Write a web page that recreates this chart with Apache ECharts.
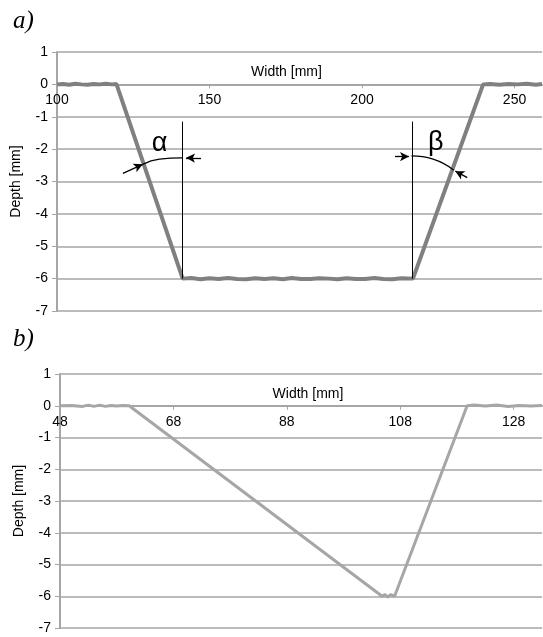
<!DOCTYPE html>
<html>
<head>
<meta charset="utf-8">
<script src="https://cdn.jsdelivr.net/npm/echarts@6/dist/echarts.min.js"></script>
<style>
  html, body { margin: 0; padding: 0; background: #fff; }
  #chart { width: 543px; height: 637px; }
</style>
</head>
<body>
<div id="chart"></div>
<script>
// panel a) profile [width mm, depth mm]
const profileA = [
    [100, 0.00], [102, 0.01], [104, -0.01], [106, 0.02], [108, 0.00], [110, -0.01],
    [112, 0.01], [114, 0.00], [116, 0.02], [118, 0.00], [119.5, 0.01],
    [141.2, -6.00], [144, -5.98], [147, -6.02], [150, -5.99], [153, -6.01], [156, -5.98],
    [159, -6.01], [162, -6.02], [165, -5.99], [168, -6.01], [171, -5.99], [174, -6.02],
    [177, -5.98], [180, -6.01], [183, -6.01], [186, -5.99], [189, -6.00], [192, -6.02],
    [195, -5.99], [198, -6.01], [201, -6.01], [204, -5.98], [207, -6.01], [210, -6.02],
    [213, -5.99], [216.7, -6.00],
    [239.7, 0.00], [242, 0.01], [245, -0.01], [248, 0.01], [251, 0.00], [254, 0.02],
    [257, -0.01], [259, 0.01]
];

// panel b) profile
const profileB = [
    [48, 0.00], [50, 0.01], [52, -0.02], [53, 0.02], [54, -0.02], [55, 0.02], [56, -0.02],
    [57, 0.01], [58, -0.01], [59, 0.01], [60.2, 0.00],
    [104.8, -6.00], [105.3, -5.95], [105.8, -6.03], [106.3, -5.95], [107.0, -6.00],
    [119.8, 0.00], [121, 0.02], [123, -0.01], [125, 0.02], [127, -0.02], [129, 0.01],
    [131, -0.01], [133, 0.01]
];

const yTicks = [-7, -6, -5, -4, -3, -2, -1, 0, 1];

// angle annotations in panel a)
const guideLines = [
    [[141.2, -1.15], [141.2, -6]],
    [[216.5, -1.15], [216.5, -6]]
];
const arrowsA = [
    [[121.6, -2.75], [128.1, -2.47]],
    [[147.2, -2.28], [142.3, -2.27]],
    [[210.8, -2.23], [215.4, -2.23]],
    [[234.5, -2.88], [230.6, -2.68]]
];
const arcAlpha = [[128.1, -2.47], [133.6, -2.31], [141.0, -2.27]];
const arcBeta = [[216.2, -2.21], [223.3, -2.31], [230.1, -2.65]];
const angleLabels = [
    {name: 'α', coord: [133.6, -1.84]},
    {name: 'β', coord: [224.2, -1.80]}
];

const chart = echarts.init(document.getElementById('chart'));

const gray = '#a6a6a6';
const font = 'Liberation Sans, Arial, sans-serif';

const gridA = {left: 57, top: 52, right: 1, height: 259, outerBoundsMode: 'none'};
const gridB = {left: 60, top: 374, right: 1, height: 254, outerBoundsMode: 'none'};

// x axis sits on depth 0 -> lift it from the grid bottom by the 0..-7 span
function xAxisFor(idx, grid, min, max, interval, pad) {
    const lift = grid.height * (0 - yTicks[0]) / (yTicks[yTicks.length - 1] - yTicks[0]);
    return {
        type: 'value', gridIndex: idx, min: min, max: max, interval: interval,
        position: 'bottom', offset: -lift,
        name: 'Width [mm]', nameLocation: 'middle', nameGap: -19, nameMoveOverlap: false,
        nameTextStyle: {color: '#000', fontSize: 14, fontFamily: font, padding: pad},
        axisLine: {onZero: false, lineStyle: {color: gray, width: 2}},
        axisTick: {show: true, length: 4, lineStyle: {color: gray}},
        axisLabel: {color: '#000', fontSize: 14, fontFamily: font, margin: 9, showMaxLabel: false},
        splitLine: {show: false}
    };
}

function yAxisFor(idx) {
    return {
        type: 'value', gridIndex: idx, min: yTicks[0], max: yTicks[yTicks.length - 1], interval: 1,
        name: 'Depth [mm]', nameLocation: 'middle', nameGap: 34,
        nameTextStyle: {color: '#000', fontSize: 14, fontFamily: font},
        axisLine: {show: true, onZero: false, lineStyle: {color: gray, width: 2}},
        axisTick: {show: true, length: 5, lineStyle: {color: gray}},
        axisLabel: {color: '#000', fontSize: 14, fontFamily: font, margin: 9},
        splitLine: {show: true, lineStyle: {color: gray, width: 1.5}}
    };
}

const option = {
    animation: false,
    backgroundColor: '#fff',
    title: [
        {text: 'a)', left: 8, top: 4, textStyle: {fontFamily: 'Liberation Serif, serif', fontStyle: 'italic', fontWeight: 'normal', fontSize: 25, color: '#000'}},
        {text: 'b)', left: 8, top: 322, textStyle: {fontFamily: 'Liberation Serif, serif', fontStyle: 'italic', fontWeight: 'normal', fontSize: 25, color: '#000'}}
    ],
    grid: [gridA, gridB],
    xAxis: [
        xAxisFor(0, gridA, 100, 259, 50, [0, 26, 0, 0]),
        xAxisFor(1, gridB, 48, 133, 20, [0, 0, 0, 14])
    ],
    yAxis: [yAxisFor(0), yAxisFor(1)],
    series: [
        {
            type: 'line', xAxisIndex: 0, yAxisIndex: 0, data: profileA,
            showSymbol: false, lineStyle: {color: '#808080', width: 4}, z: 3,
            markLine: {
                silent: true, symbol: ['none', 'none'], label: {show: false},
                lineStyle: {color: '#000', width: 1, type: 'solid'},
                data: guideLines.map(l => [{coord: l[0]}, {coord: l[1]}])
            },
            markPoint: {
                silent: true, symbol: 'circle', symbolSize: 1, itemStyle: {color: 'rgba(0,0,0,0)'},
                label: {show: true, formatter: '{b}', color: '#000', fontSize: 27, fontFamily: font, position: 'inside'},
                data: angleLabels
            }
        },
        {
            type: 'line', xAxisIndex: 0, yAxisIndex: 0, data: [],
            markLine: {
                silent: true, symbol: ['none', 'arrow'], symbolSize: [7, 9], label: {show: false},
                lineStyle: {color: '#000', width: 1.3, type: 'solid'},
                data: arrowsA.map(l => [{coord: l[0]}, {coord: l[1]}])
            }
        },
        {
            type: 'line', xAxisIndex: 0, yAxisIndex: 0, data: arcAlpha, smooth: true,
            showSymbol: false, lineStyle: {color: '#000', width: 1.2}, z: 4
        },
        {
            type: 'line', xAxisIndex: 0, yAxisIndex: 0, data: arcBeta, smooth: true,
            showSymbol: false, lineStyle: {color: '#000', width: 1.2}, z: 4
        },
        {
            type: 'line', xAxisIndex: 1, yAxisIndex: 1, data: profileB,
            showSymbol: false, lineStyle: {color: '#a6a6a6', width: 3}, z: 3
        }
    ]
};

chart.setOption(option);
</script>
</body>
</html>
